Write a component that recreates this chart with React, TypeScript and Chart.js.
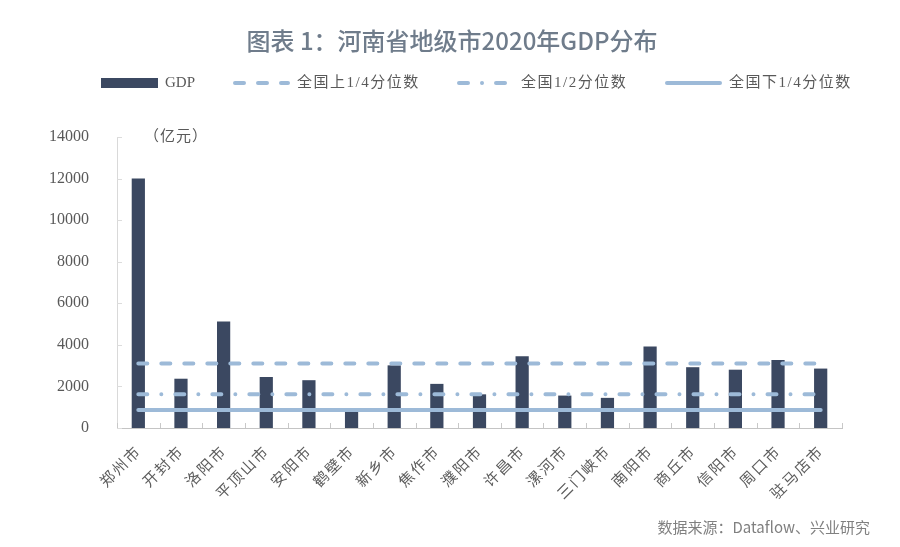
import React, { useEffect, useRef } from 'react';
import { Chart, registerables } from 'chart.js';

Chart.register(...registerables);

const CITIES = ['郑州市', '开封市', '洛阳市', '平顶山市', '安阳市', '鹤壁市', '新乡市', '焦作市', '濮阳市', '许昌市', '漯河市', '三门峡市', '南阳市', '商丘市', '信阳市', '周口市', '驻马店市'];
const GDP = [12003, 2371, 5128, 2455, 2300, 800, 3014, 2123, 1620, 3450, 1560, 1450, 3926, 2925, 2805, 3267, 2859];
const UPPER_Q = 3100;
const MEDIAN = 1620;
const LOWER_Q = 860;
const Y_TICKS = [0, 2000, 4000, 6000, 8000, 10000, 12000, 14000];

const TITLE = '图表 1：河南省地级市2020年GDP分布';
const UNIT = '（亿元）';
const SOURCE = '数据来源：Dataflow、兴业研究';
const LEGEND_LABELS = ['GDP', '全国上1/4分位数', '全国1/2分位数', '全国下1/4分位数'];

const BAR_COLOR = '#3b4861';
const LINE_COLOR = '#9dbad8';
const TEXT_COLOR = '#595959';
const SERIF = "'Liberation Serif', 'Noto Sans CJK SC', serif";
const SANS = "'Noto Sans CJK SC', 'Noto Sans', sans-serif";

const DASH_UPPER = [9, 14];
const DASH_MEDIAN = [9, 14, 0.01, 14];

const decorPlugin = {
  id: 'decor',
  afterDraw(chart: any) {
    const ctx = chart.ctx as CanvasRenderingContext2D;
    const area = chart.chartArea;
    const xs = chart.scales.x;
    const ys = chart.scales.y;
    ctx.save();

    // title
    ctx.fillStyle = '#6f7c8b';
    ctx.font = `500 24px ${SANS}`;
    ctx.textAlign = 'center';
    ctx.textBaseline = 'middle';
    ctx.fillText(TITLE, 452, 41);

    // source
    ctx.fillStyle = '#808080';
    ctx.font = `15px ${SANS}`;
    ctx.textAlign = 'right';
    ctx.fillText(SOURCE, 870, 527);

    // unit
    ctx.fillStyle = TEXT_COLOR;
    ctx.font = `15px ${SERIF}`;
    ctx.textAlign = 'left';
    (ctx as any).letterSpacing = '1px';
    ctx.fillText(UNIT, area.left + 27, area.top);
    (ctx as any).letterSpacing = '0px';

    // rotated category labels
    ctx.fillStyle = '#5c5c5c';
    ctx.font = `15px ${SANS}`;
    ctx.textAlign = 'right';
    ctx.textBaseline = 'middle';
    (ctx as any).letterSpacing = '2px';
    CITIES.forEach((c, i) => {
      const x = xs.getPixelForValue(i);
      ctx.save();
      ctx.translate(x, area.bottom + 20);
      ctx.rotate(-Math.PI / 4);
      ctx.fillText(c, 0, 0);
      ctx.restore();
    });
    (ctx as any).letterSpacing = '0px';

    // inward tick marks on x axis (category boundaries)
    ctx.strokeStyle = '#c8c8c8';
    ctx.lineWidth = 1;
    const n = CITIES.length;
    for (let i = 0; i <= n; i++) {
      const x = Math.round(xs.left + (i * (xs.right - xs.left)) / n) + 0.5;
      ctx.beginPath();
      ctx.moveTo(x, area.bottom);
      ctx.lineTo(x, area.bottom - 5);
      ctx.stroke();
    }
    // inward tick marks on y axis
    ctx.strokeStyle = '#dcdcdc';
    for (const v of Y_TICKS) {
      const y = Math.round(ys.getPixelForValue(v)) + 0.5;
      ctx.beginPath();
      ctx.moveTo(area.left, y);
      ctx.lineTo(area.left + 5, y);
      ctx.stroke();
    }

    // legend
    const ly = 83;
    const sampleW = 57;
    const starts = [101, 233, 457, 665];
    ctx.font = `15px ${SERIF}`;
    ctx.textBaseline = 'middle';
    ctx.textAlign = 'left';
    LEGEND_LABELS.forEach((label, i) => {
      const x0 = starts[i];
      if (i === 0) {
        ctx.fillStyle = BAR_COLOR;
        ctx.fillRect(x0, ly - 5, sampleW, 10);
      } else {
        ctx.strokeStyle = LINE_COLOR;
        ctx.lineWidth = 4;
        ctx.lineCap = 'round';
        ctx.setLineDash(i === 1 ? DASH_UPPER : i === 2 ? DASH_MEDIAN : []);
        ctx.beginPath();
        ctx.moveTo(x0 + 2, ly);
        ctx.lineTo(x0 + sampleW - 2, ly);
        ctx.stroke();
        ctx.setLineDash([]);
      }
      ctx.fillStyle = TEXT_COLOR;
      (ctx as any).letterSpacing = i === 0 ? '0px' : '1.5px';
      ctx.fillText(label, x0 + sampleW + 7, ly);
    });
    (ctx as any).letterSpacing = '0px';
    ctx.restore();
  },
};

function lineSet(label: string, value: number, dash: number[]) {
  return {
    type: 'line' as const,
    label,
    data: [
      { x: CITIES[0], y: value },
      { x: CITIES[CITIES.length - 1], y: value },
    ],
    borderColor: LINE_COLOR,
    backgroundColor: LINE_COLOR,
    borderWidth: 4,
    borderDash: dash,
    borderCapStyle: 'round' as const,
    pointRadius: 0,
    fill: false,
    order: 0,
  };
}

export default function App() {
  const ref = useRef<HTMLCanvasElement | null>(null);

  useEffect(() => {
    document.body.style.margin = '0';
    document.body.style.background = '#ffffff';
    const canvas = ref.current;
    if (!canvas) return;
    const chart = new Chart(canvas, {
      type: 'bar',
      data: {
        labels: CITIES,
        datasets: [
          {
            type: 'bar',
            label: LEGEND_LABELS[0],
            data: GDP,
            backgroundColor: BAR_COLOR,
            categoryPercentage: 1,
            barPercentage: 0.31,
            order: 1,
          },
          lineSet(LEGEND_LABELS[1], UPPER_Q, DASH_UPPER),
          lineSet(LEGEND_LABELS[2], MEDIAN, DASH_MEDIAN),
          lineSet(LEGEND_LABELS[3], LOWER_Q, []),
        ] as any,
      },
      options: {
        animation: false,
        responsive: false,
        maintainAspectRatio: false,
        layout: { padding: { top: 137, left: 0, right: 58, bottom: 0 } },
        plugins: {
          legend: { display: false },
          title: { display: false },
          tooltip: { enabled: false },
        },
        scales: {
          x: {
            grid: { display: false },
            border: { display: true, color: '#c4c4c4', width: 1 },
            ticks: { display: false },
            afterFit: (scale: any) => {
              scale.height = 119;
            },
          },
          y: {
            min: 0,
            max: 14000,
            grid: { display: false },
            border: { display: true, color: '#d9d9d9', width: 1 },
            ticks: {
              stepSize: 2000,
              color: TEXT_COLOR,
              font: { family: SERIF, size: 16 },
              padding: 20,
              callback: (v: any) => String(v),
            },
            afterFit: (scale: any) => {
              scale.width = 117;
            },
          },
        },
      },
      plugins: [decorPlugin],
    });
    return () => chart.destroy();
  }, []);

  return (
    <div style={{ width: 900, height: 547, background: '#fff' }}>
      <canvas ref={ref} width={900} height={547} style={{ display: 'block' }} />
    </div>
  );
}
